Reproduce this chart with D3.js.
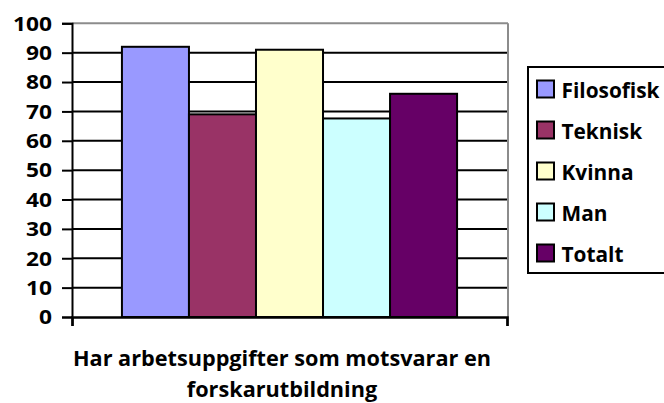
<!DOCTYPE html>
<html><head><meta charset="utf-8">
<script src="https://cdn.jsdelivr.net/npm/d3@7"></script>
<style>
html,body{margin:0;padding:0;background:#fff;}
svg text{font-family:"Open Sans",sans-serif;font-weight:bold;fill:#000;}
</style></head>
<body>
<svg id="chart" width="664" height="403"></svg>
<script>
const categories = ["Har arbetsuppgifter som motsvarar en forskarutbildning"];
const seriesNames = ["Filosofisk", "Teknisk", "Kvinna", "Man", "Totalt"];
const seriesValues = [92, 69, 91, 67.6, 76];
const seriesColors = ["#9999FF", "#993366", "#FFFFCC", "#CCFFFF", "#660066"];
const yTicks = [0, 10, 20, 30, 40, 50, 60, 70, 80, 90, 100];
const titleLines = ["Har arbetsuppgifter som motsvarar en", "forskarutbildning"];

const svg = d3.select("#chart");
const m = {left: 72, right: 507, top: 23.3, bottom: 317};

// fit a group of texts horizontally: scale so that the reference text reaches target width
function fitWidths(sel, refText, target) {
  let ref = null;
  sel.each(function() { if (this.textContent === refText) ref = this; });
  if (!ref) return;
  const k = target / ref.getComputedTextLength();
  sel.each(function() {
    const w = this.getComputedTextLength();
    d3.select(this).attr("textLength", w * k).attr("lengthAdjust", "spacingAndGlyphs");
  });
}

const y = d3.scaleLinear().domain([0, 100]).range([m.bottom, m.top]);
const x0 = d3.scaleBand().domain(categories).range([m.left, m.right]).paddingInner(0).paddingOuter(0.149);
const x1 = d3.scaleBand().domain(seriesNames).range([0, x0.bandwidth()]).padding(0);

// plot area border (gray top and right)
svg.append("line").attr("x1", m.left).attr("x2", m.right + 1).attr("y1", m.top).attr("y2", m.top)
  .attr("stroke", "#8c8c8c").attr("stroke-width", 2);
svg.append("line").attr("x1", m.right + 1).attr("x2", m.right + 1).attr("y1", m.top).attr("y2", m.bottom)
  .attr("stroke", "#8c8c8c").attr("stroke-width", 2);

// gridlines
svg.append("g").selectAll("line").data(yTicks.filter(d => d > 0 && d < 100)).join("line")
  .attr("x1", m.left).attr("x2", m.right).attr("y1", d => y(d)).attr("y2", d => y(d))
  .attr("stroke", "#000").attr("stroke-width", 2);

// bars
svg.append("g").selectAll("rect").data(seriesNames).join("rect")
  .attr("x", d => x0(categories[0]) + x1(d))
  .attr("y", (d, i) => y(seriesValues[i]))
  .attr("width", x1.bandwidth())
  .attr("height", (d, i) => y(0) - y(seriesValues[i]))
  .attr("fill", (d, i) => seriesColors[i])
  .attr("stroke", "#000").attr("stroke-width", 2);

// y axis
const yAxis = d3.axisLeft(y).tickValues(yTicks).tickSize(10).tickPadding(10).tickFormat(d3.format("d"));
const gy = svg.append("g").attr("transform", `translate(${m.left},0)`).call(yAxis);
gy.select(".domain").attr("stroke", "#000").attr("stroke-width", 2);
gy.selectAll(".tick line").attr("stroke", "#000").attr("stroke-width", 2);
const yt = gy.selectAll(".tick text").style("font-size", "19px").attr("dy", "0.36em").attr("x", -20);
fitWidths(yt, "100", 39);

// x axis
const xEdge = d3.scaleLinear().domain([0, 1]).range([m.left, m.right]);
const xAxis = d3.axisBottom(xEdge).tickValues([0, 1]).tickSize(9).tickFormat("");
const gx = svg.append("g").attr("transform", `translate(0,${m.bottom})`).call(xAxis);
gx.select(".domain").attr("stroke", "#000").attr("stroke-width", 2.5);
gx.selectAll(".tick line").attr("stroke", "#000").attr("stroke-width", 2);

// x title
const tt = svg.append("g").selectAll("text").data(titleLines).join("text")
  .attr("x", 282).attr("y", (d, i) => 366 + i * 30.5)
  .attr("text-anchor", "middle").style("font-size", "21.5px").text(d => d);
fitWidths(tt, titleLines[0], 418);

// legend
const lg = svg.append("g");
lg.append("rect").attr("x", 528).attr("y", 67).attr("width", 140).attr("height", 206)
  .attr("fill", "#fff").attr("stroke", "#000").attr("stroke-width", 2);
const items = lg.selectAll("g.item").data(seriesNames).join("g").attr("class", "item")
  .attr("transform", (d, i) => `translate(537,${89 + i * 41})`);
items.append("rect").attr("x", 0).attr("y", -8.5).attr("width", 17).attr("height", 17)
  .attr("fill", (d, i) => seriesColors[i]).attr("stroke", "#000").attr("stroke-width", 2);
const lt = items.append("text").attr("x", 24.5).attr("y", 9.3).style("font-size", "21px").text(d => d);
fitWidths(lt, "Filosofisk", 98);
</script>
</body></html>
